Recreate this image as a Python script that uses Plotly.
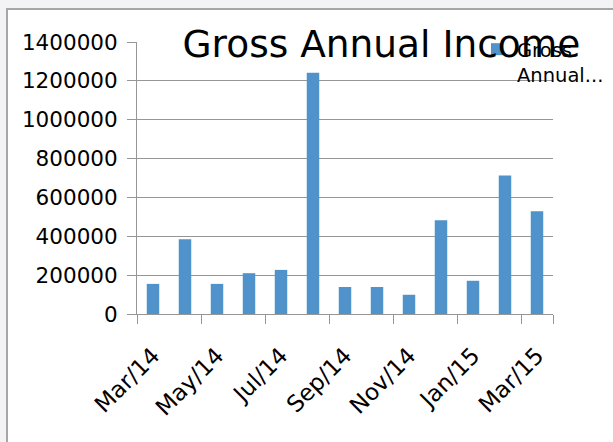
import plotly.graph_objects as go

# ---- data ----
months = ["Mar/14", "Apr/14", "May/14", "Jun/14", "Jul/14", "Aug/14", "Sep/14",
          "Oct/14", "Nov/14", "Dec/14", "Jan/15", "Feb/15", "Mar/15"]
income = [155000, 385000, 155000, 210000, 227000, 1242000, 139000,
          139000, 99000, 483000, 171000, 713000, 529000]
shown_labels = months[::2]
y_ticks = [0, 200000, 400000, 600000, 800000, 1000000, 1200000, 1400000]
series_name = "Gross<br>Annual..."
title_text = "Gross Annual Income"

# ---- layout constants ----
W, H = 613, 442
ML, MR, MT, MB = 137, 60, 42, 128
PW, PH = W - ML - MR, H - MT - MB
FONT = "DejaVu Sans"
GRID = "#969696"
BAR = "#4F93CA"

def px_x(px):
    return (px - ML) / PW

def px_y(py):
    return 1 - (py - MT) / PH

fig = go.Figure()
fig.add_trace(go.Bar(x=months, y=income, name=series_name,
                     marker=dict(color=BAR, line=dict(width=0)),
                     showlegend=True))

fig.update_layout(
    width=W, height=H,
    margin=dict(l=ML, r=MR, t=MT, b=MB, pad=0, autoexpand=False),
    paper_bgcolor="#f3f3f5",
    plot_bgcolor="rgba(0,0,0,0)",
    bargap=0.61,
    font=dict(family=FONT, color="#000000", size=20),
    title=dict(text=title_text, xref="container", yref="container",
               x=381.5 / W, y=1 - 44 / H, xanchor="center", yanchor="middle",
               font=dict(family=FONT, size=37.5, color="#000000")),
    showlegend=True,
    legend=dict(x=px_x(477), y=px_y(30), xanchor="left", yanchor="top",
                bgcolor="rgba(0,0,0,0)", borderwidth=0, valign="top",
                font=dict(family=FONT, size=19.5, color="#000000")),
    shapes=[dict(type="rect", xref="paper", yref="paper", layer="below",
                 x0=px_x(7), x1=px_x(W + 20), y0=px_y(H + 20), y1=px_y(9),
                 fillcolor="#ffffff", line=dict(color="#a6a6a6", width=2))],
)

fig.update_xaxes(
    type="category",
    tickmode="array", tickvals=shown_labels, ticktext=shown_labels,
    tickson="boundaries",
    tickangle=-45,
    ticks="outside", ticklen=9, tickcolor=GRID, tickwidth=1,
    showline=True, linecolor=GRID, linewidth=1,
    showgrid=False,
    range=[-0.5, 12.5],
    automargin=False,
    ticklabelstandoff=18,
    tickfont=dict(family=FONT, size=23, color="#000000"),
)
fig.update_yaxes(
    range=[0, 1400000],
    tickmode="array", tickvals=y_ticks, ticktext=[str(v) for v in y_ticks],
    ticks="outside", ticklen=9, tickcolor=GRID, tickwidth=1,
    showline=True, linecolor=GRID, linewidth=1,
    showgrid=True, gridcolor=GRID, gridwidth=1,
    zeroline=False,
    automargin=False,
    ticklabelstandoff=5,
    tickfont=dict(family=FONT, size=21.5, color="#000000"),
)

fig.write_html("out.html",
               config={"displayModeBar": False},
               post_script="document.body.style.margin='0px';")
